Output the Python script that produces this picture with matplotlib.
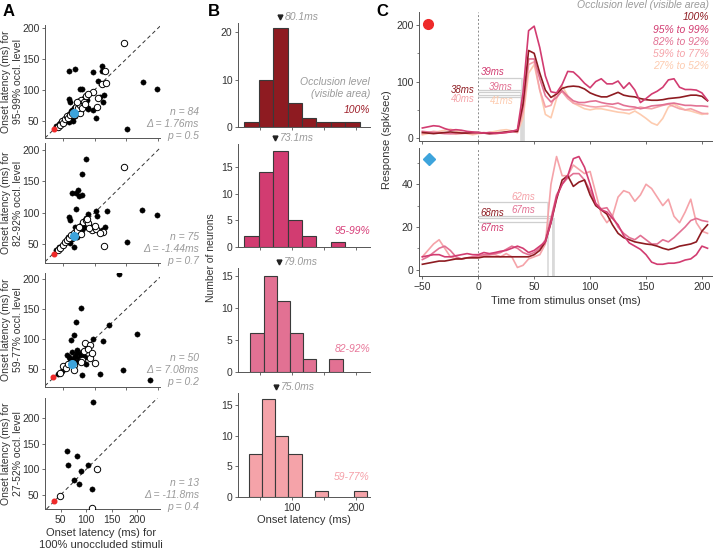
import numpy as np
import matplotlib
matplotlib.use("Agg")
import matplotlib.pyplot as plt
import matplotlib.transforms as mtrans

W, H = 715, 553
plt.rcParams['font.family'] = ['Liberation Sans', 'DejaVu Sans']
plt.rcParams['font.size'] = 7.5
plt.rcParams['axes.linewidth'] = 0.7

# --- colours ---
C100 = '#8E1B21'
C95 = '#D23C71'
C82 = '#E27193'
C59 = '#F5A3A9'
C27 = '#FDCBAF'
GREY = '#9A9A9A'
TXT = '#333333'
BLUE = '#3DA4DC'
RED = '#EE2A2A'

# --- panel A: onset latency, occluded vs unoccluded (x = 100%, y = occluded) ---
a_levels = ["95-99%", "82-92%", "59-77%", "27-52%"]
a_n = [84, 75, 50, 13]
a_delta = ["1.76", "-1.44", "7.08", "-11.8"]
a_p = ["0.5", "0.7", "0.2", "0.4"]

a1_filled = [(60, 131), (69, 134), (98, 129), (111, 138), (111, 130), (106, 114), (77, 102), (81, 101),
             (176, 113), (198, 101), (151, 36), (102, 54), (98, 68), (90, 69), (114, 81), (108, 89),
             (59, 85), (61, 81), (115, 92), (89, 70), (81, 84), (40, 42), (44, 44), (46, 47), (50, 50),
             (52, 48), (55, 55), (57, 52), (58, 58), (60, 61), (62, 57), (63, 65), (65, 68), (67, 70),
             (68, 66), (70, 72), (72, 75), (73, 69), (75, 78), (76, 74), (78, 80), (84, 86), (86, 88),
             (60, 48), (64, 53), (70, 58), (66, 50), (88, 84), (82, 76), (79, 72), (71, 64), (74, 82)]
a1_open = [(146, 176), (116, 130), (111, 110), (118, 111), (106, 86), (98, 97), (104, 73), (77, 63),
           (42, 40), (45, 43), (48, 50), (50, 46), (53, 52), (56, 57), (58, 54), (61, 59), (64, 62),
           (69, 67), (71, 72), (74, 71), (77, 76), (79, 83), (83, 80), (87, 90), (72, 80), (80, 70),
           (85, 77), (68, 60), (90, 93)]
a2_filled = [(87, 186), (81, 161), (74, 136), (65, 132), (71, 131), (81, 129), (76, 126), (71, 106),
             (60, 94), (62, 88), (89, 98), (103, 103), (104, 95), (119, 102), (175, 104), (198, 96),
             (151, 53), (111, 72), (98, 72), (116, 78), (68, 46), (62, 52), (58, 62), (72, 62), (88, 86),
             (85, 78), (80, 72), (40, 41), (44, 45), (48, 47), (52, 52), (55, 54), (58, 57), (62, 60),
             (66, 64), (70, 68), (74, 75), (78, 80), (82, 84), (64, 58), (75, 66), (77, 70), (84, 82),
             (86, 92), (91, 80), (69, 78)]
a2_open = [(146, 173), (82, 85), (96, 72), (103, 74), (114, 70), (109, 68), (115, 47), (42, 40), (46, 44),
           (50, 49), (54, 53), (57, 56), (60, 59), (63, 64), (68, 67), (72, 72), (76, 78), (86, 88),
           (90, 83), (92, 75), (79, 66), (88, 90), (100, 79), (70, 63)]
a3_filled = [(139, 208), (78, 151), (71, 129), (123, 123), (167, 108), (68, 107), (63, 98), (98, 100),
             (114, 96), (57, 73), (85, 70), (86, 58), (81, 40), (109, 42), (145, 48), (188, 32), (65, 78),
             (70, 72), (73, 76), (76, 68), (72, 82), (78, 74), (80, 79), (75, 64), (67, 68), (62, 66),
             (42, 42), (48, 46), (52, 50), (88, 88), (82, 77), (60, 70), (69, 62)]
a3_open = [(85, 93), (93, 90), (84, 80), (93, 68), (101, 60), (67, 57), (67, 48), (80, 65), (50, 55),
           (45, 44), (55, 52), (58, 58), (89, 84), (78, 62), (96, 76)]
a4_filled = [(113, 233), (62, 135), (81, 126), (65, 109), (104, 108), (89, 97), (76, 79), (86, 72), (112, 61)]
a4_open = [(121, 100), (49, 47), (112, 24)]
a_red = [(36, 37), (36, 35), (35, 36), (36, 37)]
a_blue = [(67, 63), (67, 63), (64, 58), None]

# --- panel B: histograms of onset latency ---
b_labels = ["100%", "95-99%", "82-92%", "59-77%"]
b_medians = [80.1, 73.1, 79.0, 75.0]
b1_edges = [25, 48, 70, 93, 116, 138, 161, 183, 206]
b1_counts = [1, 10, 21, 5, 2, 1, 1, 1]
b2_edges = [25, 48, 70, 93, 116, 138, 161, 183]
b2_counts = [2, 14, 18, 5, 2, 0, 1]
b3_edges = [34, 55, 76, 96, 117, 138, 158, 179]
b3_counts = [6, 15, 11, 6, 2, 0, 2]
b4_edges = [32, 53, 73, 94, 115, 135, 156, 177, 197, 218]
b4_counts = [7, 16, 10, 7, 0, 1, 0, 0, 1]

# --- panel C: example PSTHs (spk/sec), sampled every 5 ms ---
t_ms = list(range(-50, 210, 5))
top_100 = [10, 9, 8, 9, 10, 11, 10, 9, 9, 10, 10, 9, 8, 9, 10, 11, 12,
           12, 60, 155, 150, 115, 85, 72, 78, 88, 91, 92, 91, 87, 80, 76, 73, 73, 77, 81, 76, 74, 73, 70,
           68, 67, 67, 68, 70, 71, 72, 74, 76, 76, 74, 66]
top_95 = [18, 20, 22, 21, 17, 14, 15, 14, 12, 11, 10, 9, 10, 9, 9, 10, 12,
          15, 80, 190, 198, 160, 110, 82, 80, 95, 118, 117, 108, 97, 89, 100, 105, 96, 96, 101, 88, 98,
          85, 63, 70, 78, 83, 90, 103, 105, 90, 86, 86, 85, 80, 67]
top_82 = [12, 11, 10, 9, 8, 8, 9, 10, 9, 9, 10, 9, 8, 8, 9, 10, 11,
          12, 55, 140, 140, 105, 75, 64, 72, 84, 74, 66, 63, 63, 65, 66, 63, 61, 60, 62, 58, 56, 55, 52,
          54, 57, 58, 59, 61, 62, 60, 58, 58, 57, 57, 56]
top_59 = [8, 10, 12, 11, 9, 8, 7, 8, 9, 8, 9, 10, 9, 8, 9, 11, 13,
          10, 45, 130, 135, 85, 55, 58, 80, 82, 70, 62, 60, 58, 56, 55, 56, 57, 55, 52, 50, 50, 52, 55,
          53, 52, 55, 58, 60, 56, 52, 50, 52, 48, 44, 43]
top_27 = [6, 8, 10, 12, 14, 16, 13, 10, 8, 6, 8, 9, 10, 12, 14, 15, 13,
          10, 35, 115, 130, 85, 42, 36, 70, 92, 75, 62, 57, 52, 50, 52, 52, 50, 48, 46, 45, 43, 48, 42,
          35, 27, 23, 35, 55, 60, 55, 50, 48, 45, 42, 44]
bot_100 = [2.5, 3, 3.5, 4, 4, 4.5, 5, 5, 5.5, 5.5, 5.5, 6, 6, 6, 6, 6, 6,
           6, 6, 6, 7, 9, 13, 22, 33, 42, 44, 39, 41, 42, 35, 30, 28, 26, 21, 17, 15, 14, 13, 12.5, 12,
           11.7, 11, 10, 9.3, 10, 11, 11.5, 12, 13, 18, 21]
bot_95 = [6, 6.5, 7, 7, 6, 6, 6.5, 7, 7.5, 7, 7, 8, 7.5, 8, 8.6, 9, 10,
          11, 10, 8, 9, 11, 13, 22, 34, 40, 44, 52, 53, 48, 40, 31, 28, 27, 24, 21, 16, 12.5, 11, 9.5, 7,
          3.5, 2.5, 2.5, 3, 3, 3.5, 4.5, 5, 7, 11, 10]
bot_82 = [4.7, 6, 8, 10, 11, 9, 6, 5, 5.5, 6, 6.5, 7, 7, 7.5, 8, 9.5, 11,
          10, 8, 7, 8, 10, 14, 24, 35, 40, 43, 45, 45, 42, 37, 31, 28.5, 29, 25, 20, 17, 15, 14, 16, 14,
          12, 12, 14, 13, 15, 17.5, 20, 23, 24, 23, 22.5]
bot_59 = [6, 9, 12, 14, 10, 6, 5, 5, 5.5, 6, 6, 6.5, 7, 7, 6, 7.5, 6,
          1, 2, 5, 6, 7, 12, 40, 53, 44, 44, 49, 47, 45, 46, 36, 26, 22, 25, 34, 37, 36, 32, 35, 40, 38,
          34, 30, 33, 25, 22, 27, 33, 22, 18, 17]
top_latency = [38, 39, 39, 40, 41]
bot_latency = [68, 67, 67, 62]
c_legend = ["100%", "95% to 99%", "82% to 92%", "59% to 77%", "27% to 52%"]


def px_axes(fig, l, t, r, b):
    return fig.add_axes([l / W, 1 - b / H, (r - l) / W, (b - t) / H])


def style(ax):
    for s in ['top', 'right']:
        ax.spines[s].set_visible(False)
    for s in ['left', 'bottom']:
        ax.spines[s].set_color('#555555')
    ax.tick_params(direction='out', length=2.5, width=0.6, color='#555555',
                   labelsize=7.5, labelcolor=TXT, pad=1.5)


def ftxt(fig, x, y, s, **kw):
    return fig.text(x / W, 1 - y / H, s, **kw)


fig = plt.figure(figsize=(W / 100, H / 100), dpi=100)

# ================= A =================
a_filled = [a1_filled, a2_filled, a3_filled, a4_filled]
a_open = [a1_open, a2_open, a3_open, a4_open]
a_boxes = [(45, 25, 160, 138), (45, 143, 160, 263), (45, 273, 160, 387), (45, 398, 160, 509)]
a_xlims = [(22, 203), (22, 203), (22, 203), (19, 245)]
a_ylims = [(22, 205), (20, 211), (20, 210), (22, 240)]
a_stat_y = [124, 249, 370, 495]

for i in range(4):
    ax = px_axes(fig, *a_boxes[i])
    style(ax)
    ax.axline((0, 0), slope=1, color='#333333', lw=0.7, ls=(0, (4, 3)), zorder=1)
    f = np.array(a_filled[i])
    o = np.array(a_open[i])
    ax.plot(f[:, 0], f[:, 1], 'o', ms=3.8, mfc='black', mec='black', mew=0.3, zorder=2)
    ax.plot(o[:, 0], o[:, 1], 'o', ms=4.6, mfc='white', mec='black', mew=0.7, zorder=3)
    ax.plot(*a_red[i], 'o', ms=3.3, color=RED, zorder=4)
    if a_blue[i] is not None:
        ax.plot(*a_blue[i], 'o', ms=5.5, color=BLUE, zorder=4)
    ax.set_xlim(*a_xlims[i])
    ax.set_ylim(*a_ylims[i])
    ax.set_xticks([50, 100, 150, 200])
    ax.set_yticks([50, 100, 150, 200])
    if i < 3:
        ax.set_xticklabels([])
    cy = (a_boxes[i][1] + a_boxes[i][3]) / 2
    ftxt(fig, 12, cy, "Onset latency (ms) for\n%s occl. level" % a_levels[i],
         rotation=90, ha='center', va='center', fontsize=7.5, color=TXT, linespacing=1.15)
    ftxt(fig, 199, a_stat_y[i],
         "n = %d\n\u0394 = %sms\np = %s" % (a_n[i], a_delta[i], a_p[i]),
         ha='right', va='center', fontsize=7.5, color=GREY, style='italic', linespacing=1.2)

ftxt(fig, 101, 539, "Onset latency (ms) for\n100% unoccluded stimuli",
     ha='center', va='center', fontsize=8, color=TXT, linespacing=1.25)

# ================= B =================
b_edges = [b1_edges, b2_edges, b3_edges, b4_edges]
b_counts = [b1_counts, b2_counts, b3_counts, b4_counts]
b_boxes = [(238, 23, 370, 127), (238, 144, 370, 247), (238, 268, 370, 372), (238, 393, 370, 497)]
b_ylims = [22, 19.3, 16.2, 17]
b_yticks = [[0, 10, 20], [0, 5, 10, 15], [0, 5, 10, 15], [0, 5, 10, 15]]
b_cols = [C100, C95, C82, C59]
b_lab_y = [110, 231, 349, 477]
b_txtcols = ['#9E1F2A', '#D8407A', '#E8789A', '#F5A0A8']

for i in range(4):
    ax = px_axes(fig, *b_boxes[i])
    style(ax)
    e = np.array(b_edges[i], dtype=float)
    c = np.array(b_counts[i], dtype=float)
    keep = c > 0
    ax.bar(e[:-1][keep], c[keep], width=np.diff(e)[keep], align='edge',
           color=b_cols[i], edgecolor='#3a3a3a', linewidth=0.8)
    ax.set_xlim(15, 222)
    ax.set_ylim(0, b_ylims[i])
    ax.set_yticks(b_yticks[i])
    ax.set_xticks([50, 100, 150, 200])
    if i < 3:
        ax.set_xticklabels([])
    else:
        ax.set_xticklabels(['', '100', '', '200'])
        ax.set_xlabel("Onset latency (ms)", fontsize=8, color=TXT, labelpad=2)
    tr = mtrans.blended_transform_factory(ax.transData, ax.transAxes)
    ax.plot([b_medians[i]], [1.055], marker='v', ms=3.5, color='#222222',
            transform=tr, clip_on=False)
    ax.annotate("%.1fms" % b_medians[i], xy=(b_medians[i], 1.055),
                xycoords=('data', 'axes fraction'), xytext=(3.5, 0),
                textcoords='offset points', va='center', ha='left',
                fontsize=7.5, color=GREY, style='italic')
    ftxt(fig, 370, b_lab_y[i], b_labels[i], ha='right', va='center',
         fontsize=7.5, color=b_txtcols[i], style='italic')

ftxt(fig, 370, 88, "Occlusion level\n(visible area)", ha='right', va='center',
     fontsize=7.5, color=GREY, style='italic', linespacing=1.2)
ftxt(fig, 211, 258, "Number of neurons", rotation=90, ha='center', va='center',
     fontsize=7.5, color=TXT)

# ================= C =================
axt = px_axes(fig, 419, 12, 712, 141)
axb = px_axes(fig, 419, 148, 712, 276)
for ax in (axt, axb):
    style(ax)
    ax.set_xlim(-53, 209)
    ax.set_xticks([-50, 0, 50, 100, 150, 200])
    ax.axvline(0, color='#8a8a8a', lw=0.7, ls=(0, (2, 2)), zorder=0)

axt.set_ylim(-5, 223)
axt.set_yticks([0, 100, 200])
axt.set_yticks([50, 150], minor=True)
axt.set_xticklabels([])
axb.set_ylim(-3, 57)
axb.set_yticks([0, 20, 40])
axb.set_yticks([10, 30, 50], minor=True)
for ax in (axt, axb):
    ax.tick_params(which='minor', direction='out', length=1.8, width=0.5, color='#555555')

top_curves = [top_27, top_59, top_82, top_100, top_95]
top_cols = [C27, C59, C82, C100, C95]
for y, col in zip(top_curves, top_cols):
    axt.plot(t_ms, y, color=col, lw=1.2, zorder=3)
bot_curves = [bot_59, bot_82, bot_100, bot_95]
bot_cols = [C59, C82, C100, C95]
for y, col in zip(bot_curves, bot_cols):
    axb.plot(t_ms, y, color=col, lw=1.2, zorder=3)

# latency markers: (level of horizontal guide, label position) per condition
top_cols_order = [C100, C95, C82, C59, C27]
top_levels = [81, 107, 86, 77, 73]
top_lab = [(-3, 85, 'right'), (2, 117, 'left'), (9, 91, 'left'), (-3, 69, 'right'), (10, 65, 'left')]
for lat, lev, (lx, ly, ha), col in zip(top_latency, top_levels, top_lab, top_cols_order):
    axt.hlines(lev, 0, lat, color='#cfcfcf', lw=0.9, zorder=1)
    axt.vlines(lat, -5, lev, color='#d9d9d9', lw=1.2, zorder=1)
    axt.text(lx, ly, "%dms" % lat, ha=ha, va='center', fontsize=7, color=col, style='italic')

bot_cols_order = [C100, C95, C82, C59]
bot_levels = [24, 22.5, 25, 31.5]
bot_lab = [(2, 26.6, 'left'), (2, 19.5, 'left'), (30, 28, 'left'), (30, 34, 'left')]
for lat, lev, (lx, ly, ha), col in zip(bot_latency, bot_levels, bot_lab, bot_cols_order):
    axb.hlines(lev, 0, lat, color='#cfcfcf', lw=0.9, zorder=1)
    axb.vlines(lat, -3, lev, color='#d9d9d9', lw=1.2, zorder=1)
    axb.text(lx, ly, "%dms" % lat, ha=ha, va='center', fontsize=7, color=col, style='italic')

axt.plot([0.03], [0.91], 'o', ms=7, color=RED, transform=axt.transAxes, clip_on=False)
axb.plot([0.034], [0.915], 'D', ms=6, color=BLUE, transform=axb.transAxes, clip_on=False)

axb.set_xlabel("Time from stimulus onset (ms)", fontsize=8, color=TXT, labelpad=3)
ftxt(fig, 387, 140, "Response (spk/sec)", rotation=90, ha='center', va='center',
     fontsize=8, color=TXT)

ftxt(fig, 709, 5, "Occlusion level (visible area)", ha='right', va='center',
     fontsize=7.5, color=GREY, style='italic')
leg_y = [17, 30, 42, 54, 66]
for s, col, yy in zip(c_legend, [C100, C95, C82, C59, C27], leg_y):
    ftxt(fig, 709, yy, s, ha='right', va='center', fontsize=7.5, color=col, style='italic')

# panel letters
ftxt(fig, 3, 12, "A", fontsize=12, fontweight='bold', va='center', ha='left')
ftxt(fig, 208, 12, "B", fontsize=12, fontweight='bold', va='center', ha='left')
ftxt(fig, 376, 12, "C", fontsize=12, fontweight='bold', va='center', ha='left')

fig.savefig("out.png", dpi=100)
